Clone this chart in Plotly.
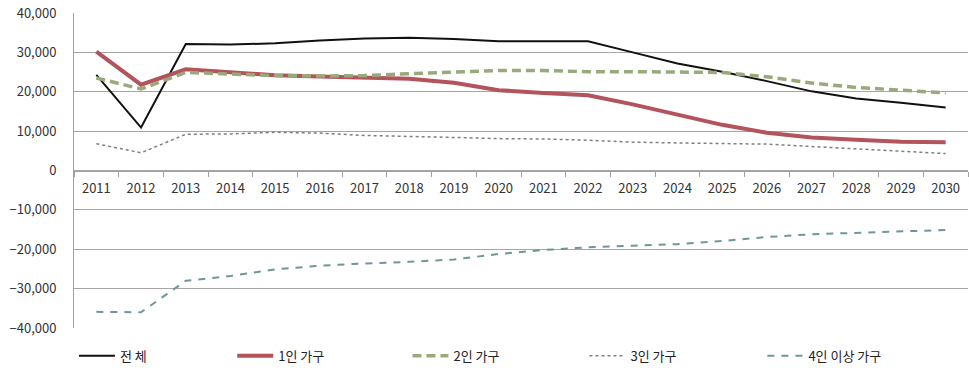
import plotly.graph_objects as go

years = [str(y) for y in range(2011, 2031)]

total = [24300, 10900, 32100, 32000, 32300, 33000, 33500, 33700, 33400, 32800,
         32800, 32800, 30000, 27200, 25100, 22700, 20100, 18300, 17200, 16000]
one_person = [30200, 21800, 25700, 24900, 24200, 23900, 23700, 23300, 22300, 20400,
              19700, 19100, 16800, 14200, 11600, 9600, 8400, 7800, 7300, 7200]
two_person = [23500, 20700, 24900, 24500, 24100, 24000, 24100, 24600, 25100, 25400,
              25400, 25100, 25100, 25100, 24900, 23800, 22200, 21100, 20500, 19700]
three_person = [6800, 4500, 9200, 9300, 9700, 9500, 8900, 8700, 8400, 8100,
                8000, 7700, 7200, 7000, 6800, 6700, 6100, 5500, 4900, 4300]
four_plus = [-35900, -36000, -28000, -26800, -25100, -24200, -23600, -23200, -22600, -21200,
             -20200, -19500, -19100, -18700, -17900, -16900, -16200, -15800, -15500, -15100]

series = [
    ("전 체", total, dict(color="#111111", width=2, dash="solid")),
    ("1인 가구", one_person, dict(color="#B3545C", width=4, dash="solid")),
    ("2인 가구", two_person, dict(color="#9AA97A", width=3.5, dash="9px,5px")),
    ("3인 가구", three_person, dict(color="#7F7F7F", width=1.5, dash="dot")),
    ("4인 이상 가구", four_plus, dict(color="#6E979B", width=2, dash="7px,7px")),
]

# one legend box per series so the entries sit at fixed spots in a single row
legend_x = [0.0, 0.177, 0.373, 0.571, 0.770]

fig = go.Figure()
legend_names = []
for i, (name, vals, line) in enumerate(series):
    lg = "legend" if i == 0 else f"legend{i + 1}"
    legend_names.append(lg)
    fig.add_trace(go.Scatter(x=years, y=vals, name=name, mode="lines",
                             line=line, legend=lg))

font_family = "Noto Sans CJK KR"
fig.update_layout(
    width=969, height=374,
    margin=dict(l=74, r=1, t=13, b=46),
    paper_bgcolor="white", plot_bgcolor="white",
    font=dict(family=font_family, size=12, color="#333333"),
    showlegend=True,
    xaxis=dict(
        type="category", anchor="free", position=0.5,
        range=[-0.5, 19.5],
        showline=True, linecolor="#A0A0A0", linewidth=1,
        ticks="outside", tickson="boundaries", ticklen=5, tickcolor="#A0A0A0",
        showgrid=False, tickfont=dict(size=13, color="#333333"),
        ticklabelstandoff=6,
    ),
    yaxis=dict(
        range=[-40000, 40000], dtick=10000, tickformat=",",
        showgrid=True, gridcolor="#A6A6A6", gridwidth=1,
        zeroline=False,
        showline=True, linecolor="#A0A0A0", linewidth=1,
        ticks="", ticklabelstandoff=14,
        tickfont=dict(size=13, color="#333333"),
    ),
)

for lg, lx in zip(legend_names, legend_x):
    fig.update_layout({lg: dict(
        orientation="h", x=lx, xanchor="left", y=-0.088, yanchor="middle",
        font=dict(size=13, color="#222222"),
        itemwidth=36, bgcolor="rgba(0,0,0,0)",
    )})

fig.write_html("out.html")
